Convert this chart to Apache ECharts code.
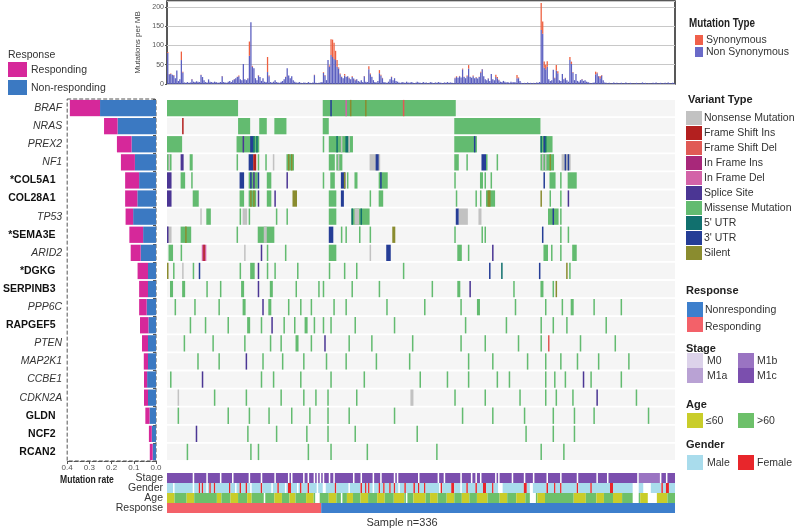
<!DOCTYPE html>
<html>
<head>
<meta charset="utf-8">
<script src="https://cdn.jsdelivr.net/npm/echarts@6/dist/echarts.min.js"></script>
<style>
  html, body { margin: 0; background: #fff; }
  #chart { width: 800px; height: 531px; }
</style>
</head>
<body>
<div id="chart"></div>
<script>
const FONT = 'Liberation Sans'
const N_SAMPLES = 336

// genes, top to bottom; i = italic, b = bold
const genes = ['BRAF', 'NRAS', 'PREX2', 'NF1', '*COL5A1', 'COL28A1', 'TP53', '*SEMA3E', 'ARID2', '*DGKG',
  'SERPINB3', 'PPP6C', 'RAPGEF5', 'PTEN', 'MAP2K1', 'CCBE1', 'CDKN2A', 'GLDN', 'NCF2', 'RCAN2']
const geneFace = ['i', 'i', 'i', 'i', 'b', 'b', 'i', 'b', 'i', 'b', 'b', 'i', 'b', 'i', 'i', 'i', 'i', 'b', 'b', 'b']

// mutation rate split by response
const rateNonResp = [0.252, 0.173, 0.110, 0.095, 0.076, 0.084, 0.103, 0.058, 0.069, 0.036,
  0.036, 0.042, 0.034, 0.036, 0.036, 0.040, 0.036, 0.029, 0.019, 0.015]
const rateResp = [0.136, 0.061, 0.066, 0.063, 0.063, 0.055, 0.034, 0.062, 0.045, 0.047,
  0.040, 0.034, 0.038, 0.027, 0.019, 0.014, 0.018, 0.019, 0.013, 0.013]

// mutations per MB, one value per sample
const tmbNonSyn = [
  80, 25, 26, 24, 22, 15, 35, 8, 12, 62, 30, 4, 3, 5, 3, 4, 12, 6, 5, 7,
  6, 5, 23, 18, 10, 5, 4, 12, 6, 5, 4, 6, 5, 3, 4, 5, 20, 5, 4, 3,
  6, 8, 5, 10, 12, 15, 18, 20, 12, 10, 52, 12, 10, 14, 73, 160, 45, 41, 15, 10,
  22, 18, 8, 15, 6, 5, 31, 20, 5, 4, 6, 10, 5, 4, 3, 6, 8, 12, 18, 41,
  22, 15, 20, 10, 6, 4, 3, 5, 3, 2, 4, 3, 2, 5, 3, 2, 4, 23, 3, 2,
  3, 4, 5, 29, 22, 10, 62, 45, 75, 70, 65, 62, 45, 40, 25, 18, 15, 22, 18, 20,
  15, 12, 18, 14, 10, 12, 8, 6, 10, 5, 20, 6, 5, 38, 25, 18, 10, 5, 4, 8,
  28, 22, 15, 5, 4, 3, 6, 12, 18, 10, 15, 8, 6, 4, 3, 5, 4, 3, 6, 4,
  3, 5, 4, 2, 3, 6, 4, 3, 2, 5, 3, 4, 2, 3, 5, 3, 2, 4, 3, 5,
  4, 3, 2, 4, 3, 5, 3, 4, 3, 2, 15, 18, 16, 20, 17, 38, 18, 15, 20, 40,
  18, 16, 20, 15, 17, 14, 18, 30, 38, 20, 12, 10, 14, 8, 26, 12, 10, 18, 15, 10,
  6, 5, 8, 6, 4, 5, 3, 6, 4, 5, 4, 15, 15, 8, 3, 2, 3, 2, 4, 2,
  3, 2, 3, 2, 4, 3, 5, 140, 130, 42, 38, 45, 12, 8, 10, 37, 15, 35, 28, 10,
  8, 26, 12, 15, 10, 6, 62, 52, 30, 10, 26, 8, 6, 10, 12, 8, 10, 6, 5, 3,
  2, 3, 4, 25, 28, 20, 15, 22, 10, 4, 3, 2, 3, 1, 2, 4, 2, 3, 1, 2,
  3, 1, 2, 4, 2, 1, 3, 2, 1, 2, 3, 2, 1, 2, 4, 2, 3, 1, 2, 2,
  1, 3, 2, 4, 1, 2, 3, 1, 2, 3, 1, 4, 2, 1, 3, 2
]
const tmbSyn = [
  3, 1, 1, 0, 1, 0, 0, 0, 0, 22, 2, 0, 0, 0, 0, 0, 1, 0, 0, 0,
  0, 0, 1, 0, 0, 0, 0, 0, 0, 0, 0, 0, 0, 0, 0, 0, 1, 0, 0, 0,
  0, 0, 0, 0, 1, 0, 1, 2, 0, 0, 0, 0, 0, 1, 37, 0, 2, 0, 0, 0,
  1, 0, 0, 0, 0, 0, 39, 2, 0, 0, 0, 0, 0, 0, 0, 0, 0, 0, 1, 0,
  0, 0, 0, 0, 0, 0, 0, 0, 0, 0, 0, 0, 0, 0, 0, 0, 0, 1, 0, 0,
  0, 0, 0, 2, 1, 0, 0, 3, 41, 45, 42, 24, 17, 3, 2, 1, 0, 4, 1, 0,
  1, 0, 2, 0, 1, 0, 0, 0, 0, 0, 1, 0, 0, 8, 2, 1, 0, 0, 0, 0,
  8, 2, 1, 0, 0, 0, 0, 0, 1, 0, 0, 0, 0, 0, 0, 0, 0, 0, 0, 0,
  0, 0, 0, 0, 0, 0, 0, 0, 0, 0, 0, 0, 0, 0, 0, 0, 0, 0, 0, 0,
  0, 0, 0, 0, 0, 0, 0, 0, 0, 0, 1, 2, 0, 1, 0, 2, 1, 0, 2, 9,
  1, 0, 2, 0, 1, 0, 1, 2, 1, 0, 0, 0, 1, 0, 0, 0, 0, 6, 3, 1,
  0, 0, 0, 0, 0, 0, 0, 0, 0, 0, 0, 8, 2, 0, 0, 0, 0, 0, 0, 0,
  0, 0, 0, 0, 0, 0, 0, 70, 32, 16, 12, 14, 0, 0, 0, 0, 1, 14, 5, 0,
  0, 0, 0, 1, 0, 0, 8, 6, 1, 0, 0, 0, 0, 0, 1, 0, 0, 0, 0, 0,
  0, 0, 0, 7, 2, 1, 5, 1, 0, 0, 0, 0, 0, 0, 0, 0, 0, 0, 0, 0,
  0, 0, 0, 0, 0, 0, 0, 0, 0, 0, 0, 0, 0, 0, 0, 0, 0, 0, 0, 0,
  0, 0, 0, 0, 0, 0, 0, 0, 0, 0, 0, 0, 0, 0, 0, 0
]

// variant types: code, label, colour
const variantCodes = ['N', 'I', 'D', 'F', 'E', 'S', 'M', '5', '3', 'L']
const variantNames = ['Nonsense Mutation', 'Frame Shift Ins', 'Frame Shift Del', 'In Frame Ins', 'In Frame Del',
  'Splice Site', 'Missense Mutation', "5' UTR", "3' UTR", 'Silent']
const variantColors = ['#c2c2c2', '#b3201f', '#e05a55', '#a8287a', '#d363a8', '#4b3694', '#63bb70', '#11706e', '#253d96', '#8a8c2f']

// mutated samples per gene: [first sample, number of samples, variant code]
const mutBRAF = [[0, 47, 'M'], [103, 88, 'M'], [108, 1, '3'], [118, 1, 'E'], [121, 1, 'L'], [131, 1, 'L'], [156, 1, 'D']]
const mutNRAS = [[10, 1, 'I'], [47, 8, 'M'], [61, 5, 'M'], [71, 8, 'M'], [103, 4, 'M'], [190, 57, 'M']]
const mutPREX2 = [[0, 10, 'M'], [46, 15, 'M'], [50, 1, 'S'], [55, 2, '3'], [57, 1, '5'], [59, 1, '5'], [103, 1, 'M'],
  [107, 16, 'M'], [112, 1, '5'], [115, 1, 'N'], [118, 2, '5'], [120, 1, 'N'], [190, 15, 'M'], [203, 1, '3'],
  [247, 8, 'M'], [247, 1, '5'], [249, 1, '3'], [250, 1, '5']]
const mutNF1 = [[0, 3, 'M'], [1, 1, 'N'], [9, 2, 'S'], [15, 2, 'M'], [46, 1, 'M'], [54, 3, '3'], [57, 2, 'I'], [60, 1, 'M'],
  [65, 1, 'M'], [70, 1, 'N'], [79, 5, 'M'], [80, 1, 'L'], [82, 1, 'L'], [107, 4, 'M'], [112, 4, 'M'], [113, 1, 'N'],
  [134, 7, 'N'], [138, 2, '3'], [190, 3, 'M'], [198, 1, 'M'], [208, 3, '3'], [211, 1, 'M'], [218, 1, 'M'],
  [247, 9, 'M'], [248, 1, 'N'], [250, 1, 'N'], [253, 1, 'L'], [261, 6, 'N'], [263, 1, '3'], [265, 1, '3']]
const mutCOL5A1 = [[0, 3, 'S'], [9, 3, 'M'], [16, 1, 'M'], [48, 3, '3'], [54, 6, 'M'], [55, 1, '3'], [57, 1, 'S'], [60, 1, '3'],
  [66, 3, 'M'], [79, 1, 'S'], [103, 1, 'M'], [108, 3, 'M'], [115, 3, '3'], [117, 1, 'L'], [119, 1, 'M'], [124, 2, 'M'],
  [140, 6, 'M'], [141, 1, '3'], [190, 1, 'M'], [207, 2, 'M'], [210, 1, 'M'], [214, 1, 'M'], [249, 1, '3'],
  [253, 4, 'M'], [260, 1, 'M'], [265, 6, 'M']]
const mutCOL28A1 = [[0, 3, 'S'], [17, 4, 'M'], [48, 3, 'M'], [54, 5, 'M'], [55, 1, 'L'], [57, 1, 'L'], [60, 1, 'S'], [66, 3, 'M'],
  [71, 1, 'S'], [83, 3, 'L'], [107, 5, 'M'], [115, 2, '3'], [134, 1, 'M'], [140, 3, 'M'], [191, 1, 'M'], [204, 1, 'M'],
  [207, 1, 'M'], [211, 6, 'M'], [212, 2, 'L'], [247, 1, 'L'], [253, 1, 'M'], [260, 1, 'M'], [265, 1, 'S']]
const mutTP53 = [[22, 1, 'N'], [26, 3, 'M'], [48, 1, 'M'], [50, 3, 'N'], [54, 1, 'M'], [72, 1, 'M'], [79, 1, 'M'], [107, 5, 'M'],
  [122, 12, 'M'], [122, 1, '5'], [124, 3, 'N'], [128, 1, '5'], [191, 2, '3'], [193, 6, 'N'], [206, 2, 'N'],
  [252, 7, 'M'], [255, 1, '3'], [260, 1, 'M']]
const mutSEMA3E = [[0, 3, 'N'], [0, 1, 'S'], [9, 7, 'M'], [12, 1, 'L'], [46, 1, 'M'], [60, 11, 'M'], [64, 2, 'N'], [107, 3, '3'],
  [115, 1, 'M'], [118, 1, 'M'], [127, 1, 'M'], [134, 1, 'M'], [149, 2, 'L'], [190, 1, 'M'], [208, 1, 'M'], [210, 1, 'M'],
  [248, 1, '3'], [260, 1, 'M'], [265, 1, 'M']]
const mutARID2 = [[1, 3, 'M'], [9, 1, 'M'], [23, 3, 'E'], [24, 1, 'I'], [51, 1, 'N'], [62, 1, 'S'], [66, 1, 'M'], [78, 1, 'M'],
  [107, 5, 'M'], [134, 1, 'N'], [145, 3, '3'], [192, 3, 'M'], [199, 1, 'M'], [215, 1, 'S'], [249, 3, 'M'], [254, 1, 'M'],
  [260, 1, 'M'], [268, 3, 'M']]
const mutDGKG = [[0, 1, 'L'], [4, 1, 'M'], [10, 1, 'N'], [17, 1, 'M'], [21, 1, '3'], [48, 1, 'M'], [55, 3, 'M'], [60, 1, 'S'],
  [66, 1, 'M'], [71, 1, 'M'], [86, 1, 'M'], [107, 1, 'M'], [117, 1, 'M'], [125, 1, 'M'], [156, 1, 'M'], [213, 1, '3'],
  [221, 1, '5'], [246, 1, '3'], [264, 1, 'L'], [266, 1, 'M']]
const mutSERPINB3 = [[2, 2, 'M'], [10, 2, 'M'], [26, 1, 'M'], [35, 1, 'M'], [49, 2, 'M'], [60, 1, 'S'], [68, 2, 'M'], [85, 1, 'M'],
  [100, 1, 'M'], [103, 1, 'M'], [122, 1, 'M'], [140, 1, 'M'], [175, 1, 'M'], [192, 2, 'M'], [200, 1, 'S'], [229, 1, 'M'],
  [247, 2, 'M'], [255, 1, 'M'], [257, 1, 'L']]
const mutPPP6C = [[5, 1, 'M'], [18, 1, 'M'], [34, 1, 'M'], [50, 2, 'M'], [63, 1, 'S'], [67, 2, 'M'], [80, 1, 'M'], [88, 1, 'M'],
  [95, 1, 'M'], [110, 1, 'M'], [118, 1, 'M'], [145, 1, 'M'], [170, 1, 'M'], [194, 1, 'M'], [205, 2, 'M'], [230, 1, 'M'],
  [250, 1, 'M'], [261, 1, 'M'], [267, 2, 'M'], [282, 1, 'M'], [300, 1, 'M']]
const mutRAPGEF5 = [[15, 1, 'M'], [25, 1, 'M'], [40, 1, 'M'], [53, 2, 'M'], [62, 1, 'M'], [69, 1, 'S'], [77, 1, 'M'], [84, 1, 'M'],
  [91, 2, 'M'], [97, 1, 'M'], [103, 1, 'M'], [108, 1, 'M'], [124, 1, 'M'], [150, 1, 'M'], [197, 1, 'M'], [224, 1, 'M'],
  [247, 1, 'M'], [255, 1, 'M'], [264, 1, 'M'], [290, 1, 'M']]
const mutPTEN = [[11, 1, 'M'], [30, 1, 'M'], [51, 1, 'M'], [68, 1, 'M'], [75, 1, 'M'], [85, 2, 'M'], [95, 1, 'M'], [104, 1, 'S'],
  [120, 1, 'M'], [135, 1, 'M'], [162, 1, 'M'], [194, 1, 'M'], [210, 1, 'M'], [232, 1, 'M'], [247, 1, 'M'], [252, 1, 'D'],
  [273, 1, 'M'], [296, 1, 'M']]
const mutMAP2K1 = [[20, 1, 'M'], [34, 1, 'M'], [52, 1, 'S'], [63, 1, 'M'], [76, 1, 'M'], [90, 1, 'M'], [105, 1, 'M'], [118, 1, 'M'],
  [138, 1, 'M'], [160, 1, 'M'], [199, 1, 'M'], [215, 1, 'M'], [238, 1, 'M'], [250, 1, 'M'], [260, 1, 'M'], [271, 1, 'M'],
  [285, 1, 'M'], [305, 1, 'M']]
const mutCCBE1 = [[2, 1, 'M'], [23, 1, 'S'], [62, 1, 'M'], [70, 1, 'M'], [88, 1, 'M'], [108, 1, 'M'], [130, 1, 'M'], [167, 1, 'M'],
  [185, 1, 'M'], [199, 1, 'M'], [218, 1, 'M'], [226, 1, 'M'], [250, 1, 'M'], [256, 1, 'M'], [263, 1, 'M'], [275, 1, 'S'],
  [280, 1, 'M'], [300, 1, 'M']]
const mutCDKN2A = [[7, 1, 'N'], [31, 1, 'M'], [52, 1, 'M'], [75, 1, 'M'], [90, 1, 'M'], [98, 1, 'M'], [106, 1, 'M'], [125, 1, 'M'],
  [161, 2, 'N'], [190, 1, 'M'], [210, 1, 'M'], [233, 1, 'M'], [250, 1, 'M'], [257, 1, 'M'], [268, 1, 'M'], [284, 1, 'S'], [310, 1, 'M']]
const mutGLDN = [[7, 1, 'M'], [40, 1, 'M'], [54, 1, 'M'], [67, 1, 'M'], [82, 1, 'M'], [94, 1, 'M'], [106, 1, 'M'], [120, 1, 'M'],
  [150, 1, 'M'], [195, 1, 'M'], [215, 1, 'M'], [236, 1, 'M'], [255, 1, 'M'], [269, 1, 'M'], [282, 1, 'M'], [318, 1, 'M']]
const mutNCF2 = [[19, 1, 'S'], [53, 1, 'M'], [72, 1, 'M'], [92, 1, 'M'], [106, 1, 'M'], [124, 1, 'M'], [165, 1, 'M'], [237, 1, 'M'],
  [255, 1, 'M'], [269, 1, 'M']]
const mutRCAN2 = [[13, 1, 'M'], [55, 1, 'M'], [60, 1, 'M'], [93, 1, 'M'], [108, 1, 'M'], [132, 1, 'M'], [178, 1, 'M'], [247, 1, 'M'],
  [262, 1, 'M']]
const mutationsByGene = [mutBRAF, mutNRAS, mutPREX2, mutNF1, mutCOL5A1, mutCOL28A1, mutTP53, mutSEMA3E, mutARID2, mutDGKG,
  mutSERPINB3, mutPPP6C, mutRAPGEF5, mutPTEN, mutMAP2K1, mutCCBE1, mutCDKN2A, mutGLDN, mutNCF2, mutRCAN2]

// clinical tracks
const trackNames = ['Stage', 'Gender', 'Age', 'Response']
const responseRuns = [[0, 102, 'R'], [102, 234, 'NR']]
const stageRuns = [[0, 312, 'M1c'], [312, 14, 'M1b'], [326, 10, 'M1c']]
const stageMissing = [17, 26, 35, 43, 54, 62, 71, 80, 82, 90, 93, 97, 99, 101, 103, 107, 110, 123, 128, 136, 141, 150, 152,
  166, 179, 183, 194, 201, 204, 207, 217, 219, 228, 236, 242, 251, 260, 271, 284, 291, 311, 326, 330]
const femaleSamples = [21, 23, 28, 31, 41, 48, 52, 62, 73, 80, 81, 88, 93, 111, 128, 131, 133, 140, 143, 147, 150, 157, 163, 166,
  170, 181, 188, 189, 198, 204, 209, 210, 215, 236, 237, 251, 256, 260, 271, 280, 293, 294, 327, 330, 331]
const genderMissing = [4, 17, 26, 45, 55, 69, 78, 86, 99, 103, 104, 120, 136, 153, 180, 194, 219, 220, 221, 240, 241, 308, 309, 310, 311, 315, 316, 317, 318, 319]
const youngRuns = [[0, 5], [13, 5], [33, 3], [42, 5], [53, 3], [71, 5], [81, 4], [92, 5], [107, 5], [119, 4], [128, 5], [139, 5],
  [150, 7], [163, 8], [174, 5], [185, 5], [195, 5], [205, 5], [210, 2], [220, 5], [231, 6], [245, 5], [269, 8], [284, 5],
  [295, 6], [313, 5], [324, 7]]
const ageMissing = [64, 98, 99, 100, 115, 158, 240, 241, 242, 243, 308, 309, 310, 311, 318, 319, 320, 321, 322, 323]

const trackPalette = {
  M0: '#dcd2ea', M1a: '#b9a2d4', M1b: '#9a74c2', M1c: '#7b4fae',
  Male: '#a9dcec', Female: '#e8262b', Young: '#c9cd2a', Old: '#6dc06a',
  R: '#f36169', NR: '#3d7fcc'
}

// ---------- build series data ----------
const sampleIdx = Array.from({ length: N_SAMPLES }, (_, i) => i)

const oncoBg = genes.map((g, i) => [0, N_SAMPLES, i])
const oncoData = []
mutationsByGene.forEach((segs, g) => {
  segs.forEach(([s, len, code]) => oncoData.push([s, s + len, g, variantCodes.indexOf(code)]))
})

function runsToCells(labelAt) {
  // merge consecutive samples with same label into one cell
  const out = []
  let cur = null
  for (let i = 0; i < N_SAMPLES; i++) {
    const lab = labelAt(i)
    if (cur && cur.lab === lab) { cur.end = i + 1; continue }
    if (cur && cur.lab) out.push(cur)
    cur = { start: i, end: i + 1, lab }
  }
  if (cur && cur.lab) out.push(cur)
  return out
}
const inRuns = (runs, i) => runs.find(r => i >= r[0] && i < r[0] + r[1])

const trackCells = []
runsToCells(i => stageMissing.includes(i) ? null : inRuns(stageRuns, i)[2])
  .forEach(c => trackCells.push([c.start, c.end, 0, c.lab]))
runsToCells(i => genderMissing.includes(i) ? null : (femaleSamples.includes(i) ? 'Female' : 'Male'))
  .forEach(c => trackCells.push([c.start, c.end, 1, c.lab]))
runsToCells(i => ageMissing.includes(i) ? null : (inRuns(youngRuns, i) ? 'Young' : 'Old'))
  .forEach(c => trackCells.push([c.start, c.end, 2, c.lab]))
runsToCells(i => inRuns(responseRuns, i)[2])
  .forEach(c => trackCells.push([c.start, c.end, 3, c.lab]))

function cellRenderer(fillOf, frac) {
  return (params, api) => {
    const a = api.coord([api.value(0), api.value(2)])
    const b = api.coord([api.value(1), api.value(2)])
    const h = api.size([0, 1])[1] * frac
    return {
      type: 'rect',
      shape: { x: a[0], y: a[1] - h / 2, width: Math.max(b[0] - a[0], 1.4), height: h },
      style: { fill: fillOf(params.dataIndex, api) }
    }
  }
}

// ---------- legends (right side + top left) ----------
const txt = (x, y, text, opt = {}) => ({
  type: 'text', x, y,
  style: Object.assign({ text, fill: '#333', font: `10.5px "${FONT}"`, textVerticalAlign: 'middle' }, opt)
})
const box = (x, y, w, h, fill) => ({ type: 'rect', shape: { x, y, width: w, height: h }, style: { fill } })
const titleFont = `bold 11px "${FONT}"`
const legend = []
legend.push(txt(8, 55, 'Response'))
legend.push(box(8, 62, 19, 15, '#d6289a'), txt(31, 70, 'Responding'))
legend.push(box(8, 80, 19, 15, '#3b79c2'), txt(31, 88, 'Non-responding'))

legend.push(Object.assign(txt(689, 24, 'Mutation Type', { font: `bold 12px "${FONT}"`, fill: '#222' }), { scaleX: 0.82 }))
legend.push(box(695, 35, 8, 10, '#f0604a'), txt(706, 40, 'Synonymous'))
legend.push(box(695, 47, 8, 10, '#6a6ac8'), txt(706, 52, 'Non Synonymous'))

legend.push(txt(688, 100, 'Variant Type', { font: titleFont, fill: '#222' }))
variantNames.forEach((name, i) => {
  legend.push(box(686, 111 + i * 15, 16, 14, variantColors[i]), txt(704, 118 + i * 15, name))
})

legend.push(txt(686, 291, 'Response', { font: titleFont, fill: '#222' }))
legend.push(box(687, 302, 16, 15, trackPalette.NR), txt(705, 310, 'Nonresponding'))
legend.push(box(687, 317, 16, 15, trackPalette.R), txt(705, 327, 'Responding'))
legend.push(txt(686, 349, 'Stage', { font: titleFont, fill: '#222' }))
legend.push(box(687, 353, 16, 15, trackPalette.M0), txt(707, 361, 'M0'))
legend.push(box(687, 368, 16, 15, trackPalette.M1a), txt(707, 376, 'M1a'))
legend.push(box(738, 353, 16, 15, trackPalette.M1b), txt(757, 361, 'M1b'))
legend.push(box(738, 368, 16, 15, trackPalette.M1c), txt(757, 376, 'M1c'))
legend.push(txt(686, 405, 'Age', { font: titleFont, fill: '#222' }))
legend.push(box(687, 413, 16, 15, trackPalette.Young), txt(706, 421, '\u226460'))
legend.push(box(738, 413, 16, 15, trackPalette.Old), txt(757, 421, '>60'))
legend.push(txt(686, 445, 'Gender', { font: titleFont, fill: '#222' }))
legend.push(box(687, 455, 16, 15, trackPalette.Male), txt(707, 463, 'Male'))
legend.push(box(738, 455, 16, 15, trackPalette.Female), txt(757, 463, 'Female'))

legend.push(Object.assign(txt(60, 480, 'Mutation rate', { font: `bold 11px "${FONT}"`, fill: '#222' }), { scaleX: 0.78 }))
legend.push(txt(402, 523, 'Sample n=336', { font: `11px "${FONT}"`, textAlign: 'center' }))

// ---------- chart ----------
const chart = echarts.init(document.getElementById('chart'))
const hidden = { show: false }

chart.setOption({
  animation: false,
  backgroundColor: '#fff',
  textStyle: { fontFamily: FONT },
  graphic: legend,
  grid: [
    { left: 167, top: 1, width: 508, height: 83, show: true, borderColor: '#222', borderWidth: 1.5, backgroundColor: '#fff' },
    { left: 63, top: 99, width: 93, height: 362, show: true, borderColor: '#555', borderWidth: 1, borderType: 'dashed' },
    { left: 167, top: 99, width: 508, height: 362 },
    { left: 167, top: 473, width: 508, height: 40 }
  ],
  xAxis: [
    { gridIndex: 0, type: 'category', data: sampleIdx, show: false },
    {
      gridIndex: 1, type: 'value', inverse: true, min: 0, max: 0.4, interval: 0.1,
      axisLine: { show: true, lineStyle: { color: '#555', type: 'dashed' } },
      axisTick: { show: true, length: 3, lineStyle: { color: '#555' } },
      splitLine: hidden,
      axisLabel: { fontSize: 8, color: '#555', margin: 3, formatter: v => v.toFixed(1) }
    },
    { gridIndex: 2, type: 'value', min: 0, max: N_SAMPLES, show: false },
    { gridIndex: 3, type: 'value', min: 0, max: N_SAMPLES, show: false }
  ],
  yAxis: [
    {
      gridIndex: 0, type: 'value', min: 0, max: 215, interval: 50,
      name: 'Mutations per MB', nameLocation: 'middle', nameRotate: 90, nameGap: 16,
      nameTextStyle: { fontSize: 8, color: '#444' },
      axisLine: hidden, axisTick: { show: true, length: 2, lineStyle: { color: '#555' } },
      axisLabel: { fontSize: 7, color: '#555', margin: 3 },
      splitLine: { lineStyle: { color: '#c8c8c8', width: 1 } }
    },
    {
      gridIndex: 1, type: 'category', data: genes, inverse: true,
      axisLine: hidden, axisTick: { show: true, length: 3, lineStyle: { color: '#555' } },
      axisLabel: {
        margin: 5, interval: 0,
        formatter: (v, i) => geneFace[i] === 'i' ? `{it|${v}}` : `{bd|${v}}  `,
        rich: {
          it: { fontStyle: 'italic', fontSize: 10.5, color: '#333', fontFamily: FONT },
          bd: { fontWeight: 'bold', fontSize: 10.5, color: '#111', fontFamily: FONT }
        }
      }
    },
    { gridIndex: 2, type: 'category', data: genes, inverse: true, show: false },
    {
      gridIndex: 3, type: 'category', data: trackNames, inverse: true,
      axisLine: hidden, axisTick: hidden,
      axisLabel: { fontSize: 10.5, color: '#333', margin: 4, interval: 0 }
    }
  ],
  series: [
    {
      name: 'Non Synonymous', type: 'bar', xAxisIndex: 0, yAxisIndex: 0, stack: 'tmb',
      data: tmbNonSyn, barCategoryGap: '15%', itemStyle: { color: '#5b5fc0' }
    },
    {
      name: 'Synonymous', type: 'bar', xAxisIndex: 0, yAxisIndex: 0, stack: 'tmb',
      data: tmbSyn, barCategoryGap: '15%', itemStyle: { color: '#ee6040' }
    },
    {
      name: 'Non-responding', type: 'bar', xAxisIndex: 1, yAxisIndex: 1, stack: 'rate',
      data: rateNonResp, barCategoryGap: '10%', itemStyle: { color: '#3b79c2' }
    },
    {
      name: 'Responding', type: 'bar', xAxisIndex: 1, yAxisIndex: 1, stack: 'rate',
      data: rateResp, barCategoryGap: '10%', itemStyle: { color: '#d6289a' }
    },
    {
      type: 'custom', xAxisIndex: 2, yAxisIndex: 2, data: oncoBg, encode: { x: [0, 1], y: 2 },
      renderItem: cellRenderer(() => '#f5f5f5', 0.9), silent: true
    },
    {
      type: 'custom', xAxisIndex: 2, yAxisIndex: 2, data: oncoData, encode: { x: [0, 1], y: 2 },
      renderItem: cellRenderer(i => variantColors[oncoData[i][3]], 0.9)
    },
    {
      type: 'custom', xAxisIndex: 3, yAxisIndex: 3, data: trackCells, encode: { x: [0, 1], y: 2 },
      renderItem: cellRenderer(i => trackPalette[trackCells[i][3]], 1.0)
    }
  ]
})
</script>
</body>
</html>
